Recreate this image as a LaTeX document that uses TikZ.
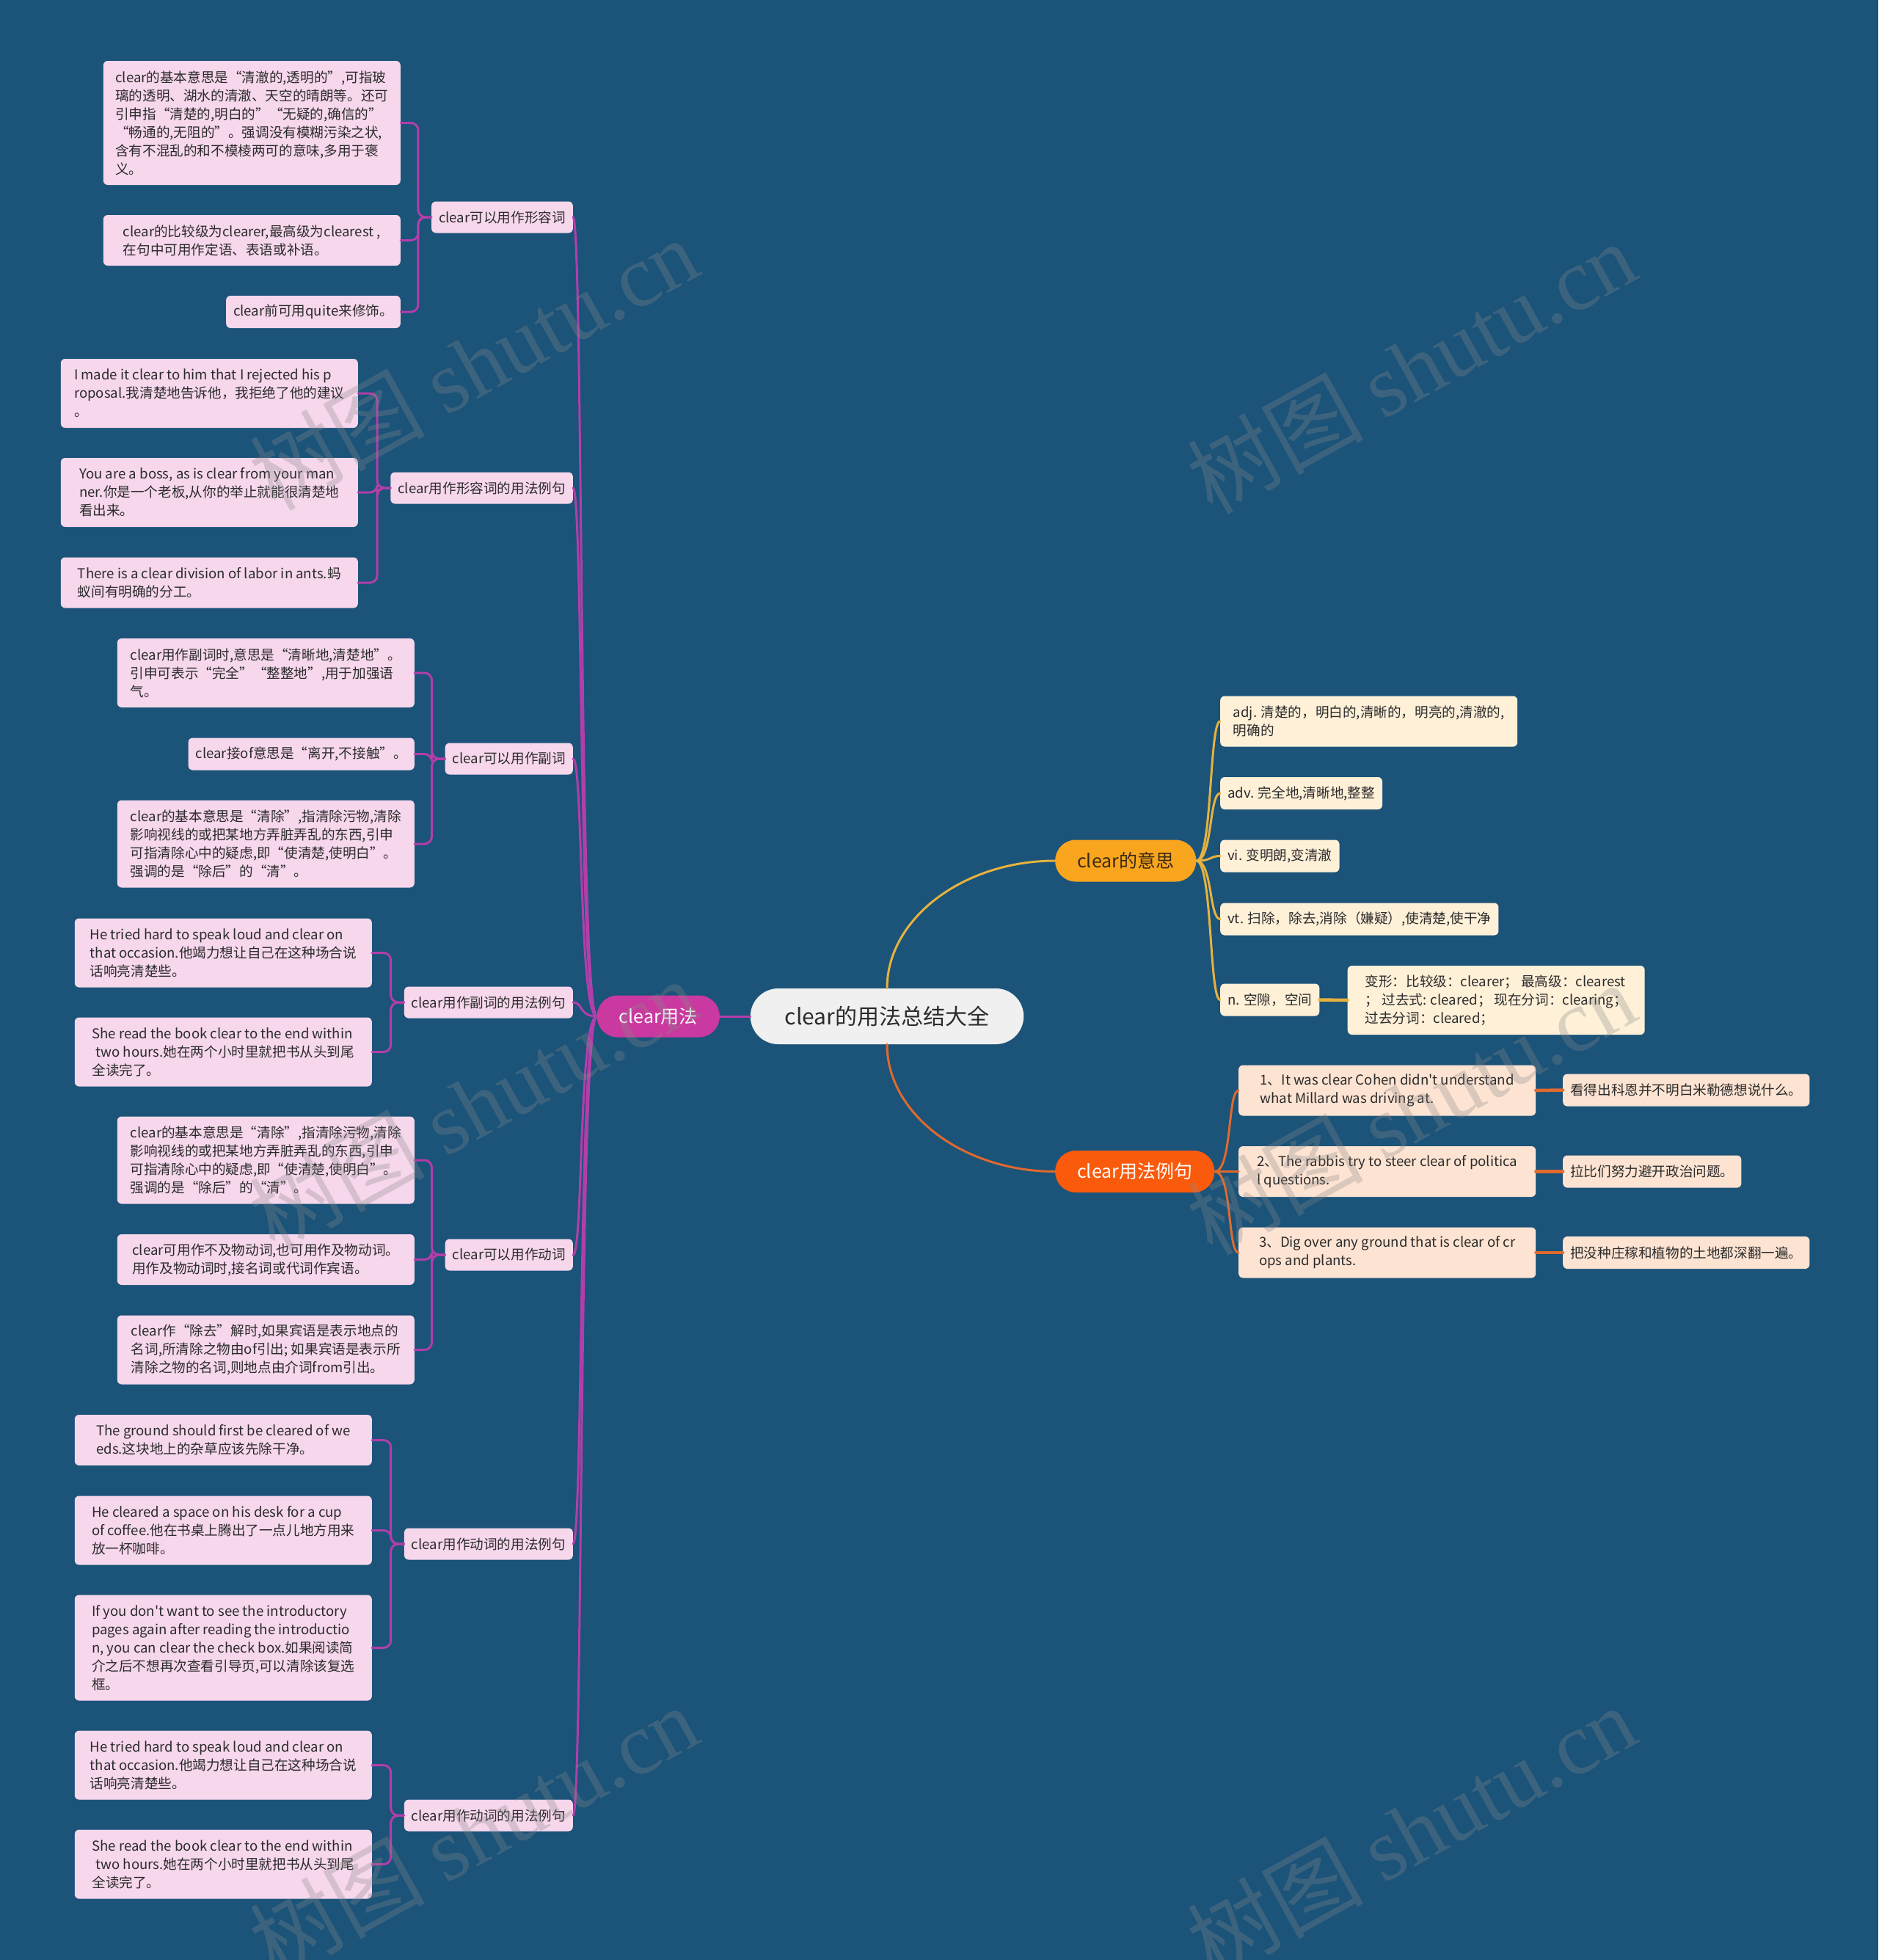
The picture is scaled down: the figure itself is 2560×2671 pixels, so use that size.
\documentclass[tikz,border=0pt]{standalone}
\usepackage{fontspec}
\setmainfont{Noto Sans CJK SC}[Ligatures=TeXOff]
\newfontfamily\wmlatin{Liberation Serif}
\usepackage{tikz}

\definecolor{bgblue}{HTML}{1B5379}
\definecolor{rootfill}{HTML}{F0F0F0}
\definecolor{inkdark}{HTML}{2B2B2B}
\definecolor{inkbrown}{HTML}{3A2A14}
\definecolor{magfill}{HTML}{C9399F}
\definecolor{magline}{HTML}{B23EAA}
\definecolor{pinkleaf}{HTML}{F6D7EC}
\definecolor{yfill}{HTML}{F9A51E}
\definecolor{yline}{HTML}{E6B23E}
\definecolor{yleaf}{HTML}{FFF0D8}
\definecolor{ofill}{HTML}{FA5A0C}
\definecolor{oline}{HTML}{DF6A2E}
\definecolor{oleaf}{HTML}{FDE3D2}
\definecolor{wmgray}{HTML}{8A8A8A}
\newcommand{\leaffont}{\fontsize{18.6}{25}\selectfont}

\begin{document}
\begin{tikzpicture}[x=1pt, y=-1pt,
    note/.style={rounded corners=6, inner xsep=10, inner ysep=4, align=left,
                 font=\leaffont, text=inkdark},
    leaf/.style={note, fill=pinkleaf, anchor=east},
    mleaf/.style={note, fill=yleaf, anchor=west},
    eleaf/.style={note, fill=oleaf, anchor=west},
    group/.style={leaf, minimum height=43},
    wide/.style={minimum width=405},
    nlines/.style={minimum height=25*#1+19},
    topic/.style={rounded corners=28, minimum height=57, inner xsep=30,
                  font=\fontsize{25}{30}\selectfont},
    link/.style={line width=3, line cap=round},
    bar/.style={link, rounded corners=10},
    wmark/.style={text=wmgray, text opacity=0.3, rotate=29,
                  font=\fontsize{120}{120}\selectfont}
]
  \useasboundingbox (0,0) rectangle (2560,2671);
  \fill[bgblue] (0,0) rectangle (2560,2671);

  \node[fill=rootfill, text=inkdark, rounded corners=38, minimum height=76,
        inner xsep=47, font=\fontsize{30}{36}\selectfont] (title) at (1209,1385) {clear的用法总结大全};
  \node[topic, fill=magfill, text=white, anchor=east] (usage) at (981,1385) {clear用法};
  \node[topic, fill=yfill, text=inkbrown, anchor=west] (meaning) at (1438,1173) {clear的意思};
  \node[topic, fill=ofill, text=white, anchor=west] (examples) at (1438,1596.5) {clear用法例句};

  % left: usage groups
  \node[group] (adj) at (781,296) {clear可以用作形容词};
  \node[leaf, wide, nlines=6] (adj1) at (546,167.5) {clear的基本意思是“清澈的,透明的”,可指玻\\璃的透明、湖水的清澈、天空的晴朗等。还可\\引申指“清楚的,明白的”“无疑的,确信的”\\“畅通的,无阻的”。强调没有模糊污染之状,\\含有不混乱的和不模棱两可的意味,多用于褒\\义。};
  \node[leaf, wide, nlines=2] (adj2) at (546,327.5) {clear的比较级为clearer,最高级为clearest ,\\在句中可用作定语、表语或补语。};
  \node[leaf, nlines=1] (adj3) at (546,425) {clear前可用quite来修饰。};

  \node[group] (adjex) at (781,665) {clear用作形容词的用法例句};
  \node[leaf, wide, nlines=3] (adjex1) at (488,536) {I made it clear to him that I rejected his p\\roposal.我清楚地告诉他，我拒绝了他的建议\\。};
  \node[leaf, wide, nlines=3] (adjex2) at (488,671) {You are a boss, as is clear from your man\\ner.你是一个老板,从你的举止就能很清楚地\\看出来。};
  \node[leaf, wide, nlines=2] (adjex3) at (488,794) {There is a clear division of labor in ants.蚂\\蚁间有明确的分工。};

  \node[group] (adv) at (781,1034) {clear可以用作副词};
  \node[leaf, wide, nlines=3] (adv1) at (565,917) {clear用作副词时,意思是“清晰地,清楚地”。\\引申可表示“完全”“整整地”,用于加强语\\气。};
  \node[leaf, nlines=1] (adv2) at (565,1027.5) {clear接of意思是“离开,不接触”。};
  \node[leaf, wide, nlines=4] (adv3) at (565,1150) {clear的基本意思是“清除”,指清除污物,清除\\影响视线的或把某地方弄脏弄乱的东西,引申\\可指清除心中的疑虑,即“使清楚,使明白”。\\强调的是“除后”的“清”。};

  \node[group] (advex) at (781,1366) {clear用作副词的用法例句};
  \node[leaf, wide, nlines=3] (advex1) at (507,1298.5) {He tried hard to speak loud and clear on\\that occasion.他竭力想让自己在这种场合说\\话响亮清楚些。};
  \node[leaf, wide, nlines=3] (advex2) at (507,1433.5) {She read the book clear to the end within\\\hspace*{5pt}two hours.她在两个小时里就把书从头到尾\\全读完了。};

  \node[group] (verb) at (781,1710) {clear可以用作动词};
  \node[leaf, wide, nlines=4] (verb1) at (565,1581) {clear的基本意思是“清除”,指清除污物,清除\\影响视线的或把某地方弄脏弄乱的东西,引申\\可指清除心中的疑虑,即“使清楚,使明白”。\\强调的是“除后”的“清”。};
  \node[leaf, wide, nlines=2] (verb2) at (565,1716.5) {clear可用作不及物动词,也可用作及物动词。\\用作及物动词时,接名词或代词作宾语。};
  \node[leaf, wide, nlines=3] (verb3) at (565,1839.5) {clear作“除去”解时,如果宾语是表示地点的\\名词,所清除之物由of引出; 如果宾语是表示所\\清除之物的名词,则地点由介词from引出。};

  \node[group] (verbex) at (781,2104) {clear用作动词的用法例句};
  \node[leaf, wide, nlines=2] (verbex1) at (507,1962.5) {The ground should first be cleared of we\\eds.这块地上的杂草应该先除干净。};
  \node[leaf, wide, nlines=3] (verbex2) at (507,2085.5) {He cleared a space on his desk for a cup\\of coffee.他在书桌上腾出了一点儿地方用来\\放一杯咖啡。};
  \node[leaf, wide, nlines=5] (verbex3) at (507,2245.5) {If you don't want to see the introductory\\pages again after reading the introductio\\n, you can clear the check box.如果阅读简\\介之后不想再次查看引导页,可以清除该复选\\框。};

  \node[group] (verbexb) at (781,2474) {clear用作动词的用法例句};
  \node[leaf, wide, nlines=3] (verbexb1) at (507,2405.5) {He tried hard to speak loud and clear on\\that occasion.他竭力想让自己在这种场合说\\话响亮清楚些。};
  \node[leaf, wide, nlines=3] (verbexb2) at (507,2540.5) {She read the book clear to the end within\\\hspace*{5pt}two hours.她在两个小时里就把书从头到尾\\全读完了。};

  % right: meanings and examples
  \node[mleaf, wide, nlines=2] (adjm) at (1663,983) {adj. 清楚的，明白的,清晰的，明亮的,清澈的,\\明确的};
  \node[mleaf, nlines=1] (advm) at (1663,1081) {adv. 完全地,清晰地,整整};
  \node[mleaf, nlines=1] (vim) at (1663,1166.5) {vi. 变明朗,变清澈};
  \node[mleaf, nlines=1] (vtm) at (1663,1252.5) {vt. 扫除，除去,消除（嫌疑）,使清楚,使干净};
  \node[mleaf, nlines=1] (nm) at (1663,1362.5) {n. 空隙，空间};
  \node[mleaf, wide, nlines=3] (forms) at (1836.5,1363) {变形：比较级：clearer； 最高级：clearest\\； 过去式: cleared； 现在分词：clearing；\\过去分词：cleared；};

  \node[eleaf, wide, nlines=2] (ex1) at (1688,1486) {1、It was clear Cohen didn't understand\\what Millard was driving at.};
  \node[eleaf, wide, nlines=2] (ex2) at (1688,1596.5) {2、The rabbis try to steer clear of politica\\l questions.};
  \node[eleaf, wide, nlines=2] (ex3) at (1688,1707) {3、Dig over any ground that is clear of cr\\ops and plants.};
  \node[eleaf, nlines=1] (tr1) at (2130,1485.5) {看得出科恩并不明白米勒德想说什么。};
  \node[eleaf, nlines=1] (tr2) at (2130,1596.5) {拉比们努力避开政治问题。};
  \node[eleaf, nlines=1] (tr3) at (2130,1707) {把没种庄稼和植物的土地都深翻一遍。};

  % connectors
  \draw[link, yline] (title.north) .. controls +(0,-95) and +(-125,0) .. (meaning.west);
  \draw[link, oline] (title.south) .. controls +(0,95) and +(-125,0) .. (examples.west);
  \draw[link, magline] (title.west) -- (usage.east);

  \foreach \n in {adj,adjex,adv,advex,verb,verbex,verbexb}
    \draw[link, magline] (usage.west) .. controls +(-25,0) and +(14,0) .. (\n.east);
  \foreach \g/\l in {adj/adj1,adj/adj2,adj/adj3,adjex/adjex1,adjex/adjex2,adjex/adjex3,
                     adv/adv1,adv/adv2,adv/adv3,advex/advex1,advex/advex2,
                     verb/verb1,verb/verb2,verb/verb3,verbex/verbex1,verbex/verbex2,verbex/verbex3,
                     verbexb/verbexb1,verbexb/verbexb2}
    \draw[bar, magline] (\g.west) -- ++(-18,0) |- (\l.east);

  \foreach \n in {adjm,advm,vim,vtm,nm}
    \draw[link, yline] (meaning.east) .. controls +(22,0) and +(-15,0) .. (\n.west);
  \draw[link, yline, line width=4.5] (nm.east) -- (forms.west);
  \foreach \n in {ex1,ex2,ex3}
    \draw[link, oline] (examples.east) .. controls +(24,0) and +(-15,0) .. (\n.west);
  \foreach \a/\b in {ex1/tr1,ex2/tr2,ex3/tr3}
    \draw[link, oline, line width=4.5] (\a.east) -- (\b.west);

  % watermark
  \foreach \x/\y [count=\i] in {645/495,1923/500,645/1505,1923/1510,645/2495,1923/2495}
    \node[wmark] (wm\i) at (\x,\y) {树图 {\wmlatin shutu.cn}};
\end{tikzpicture}
\end{document}
